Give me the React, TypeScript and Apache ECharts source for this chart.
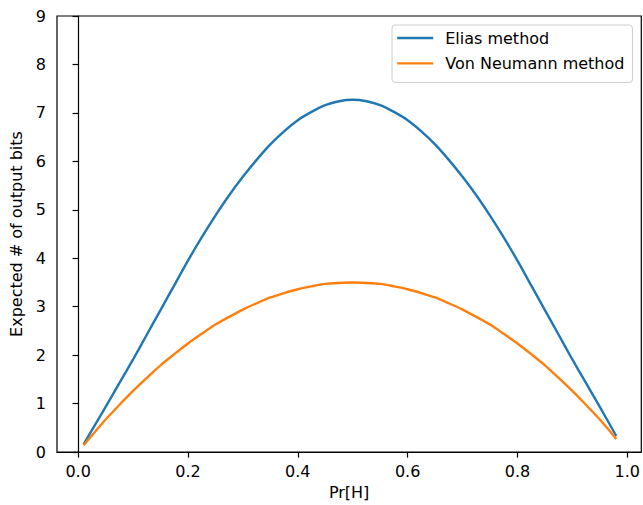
import React, { useEffect, useRef } from "react";
import * as echarts from "echarts";

const pValues = [
  0.01, 0.025, 0.05, 0.075, 0.1, 0.125, 0.15, 0.175, 0.2, 0.225, 0.25, 0.275, 0.3, 0.325, 0.35, 0.375, 0.4, 0.425, 0.45, 0.475,
  0.5, 0.525, 0.55, 0.575, 0.6, 0.625, 0.65, 0.675, 0.7, 0.725, 0.75, 0.775, 0.8, 0.825, 0.85, 0.875, 0.9, 0.925, 0.95, 0.98,
];
const eliasValues = [
  0.16, 0.45, 0.93, 1.42, 1.91, 2.42, 2.93, 3.44, 3.95, 4.43, 4.88, 5.3, 5.68, 6.03, 6.35, 6.62, 6.85, 7.02, 7.16, 7.24,
  7.27, 7.24, 7.16, 7.02, 6.85, 6.62, 6.35, 6.03, 5.68, 5.3, 4.88, 4.43, 3.95, 3.44, 2.93, 2.42, 1.91, 1.42, 0.93, 0.33,
];
const vonNeumannValues = [
  0.14, 0.34, 0.67, 0.97, 1.26, 1.53, 1.79, 2.02, 2.24, 2.44, 2.63, 2.79, 2.94, 3.07, 3.19, 3.28, 3.36, 3.42, 3.47, 3.49,
  3.5, 3.49, 3.47, 3.42, 3.36, 3.28, 3.19, 3.07, 2.94, 2.79, 2.63, 2.44, 2.24, 2.02, 1.79, 1.53, 1.26, 0.97, 0.67, 0.27,
];
const xTicks = [0, 0.2, 0.4, 0.6, 0.8, 1.0];
const seriesNames = ["Elias method", "Von Neumann method"];

const FONT = "DejaVu Sans";

export default function App() {
  const ref = useRef<HTMLDivElement>(null);
  useEffect(() => {
    if (!ref.current) return;
    const chart = echarts.init(ref.current, null, { renderer: "svg" });
    const toPairs = (vals: number[]) => pValues.map((p, i) => [p, vals[i]]);
    chart.setOption({
      animation: false,
      backgroundColor: "#ffffff",
      textStyle: { fontFamily: FONT },
      grid: {
        left: 57,
        right: 1,
        top: 16,
        bottom: 52.3,
        containLabel: false,
        show: true,
        borderColor: "#000",
        borderWidth: 1.2,
        backgroundColor: "transparent",
      },
      legend: {
        orient: "vertical",
        left: 392,
        top: 25,
        padding: [5, 8, 11, 4],
        itemWidth: 36,
        itemHeight: 14,
        itemGap: 9.4,
        backgroundColor: "rgba(255,255,255,0.8)",
        borderColor: "#cccccc",
        borderWidth: 1,
        borderRadius: 3,
        itemStyle: { opacity: 0, borderWidth: 0 },
        lineStyle: { width: 2.4 },
        data: seriesNames,
        textStyle: { fontSize: 16, color: "#000", fontFamily: FONT, padding: [0, 0, 0, 7] },
      },
      xAxis: {
        type: "value",
        min: -0.0385,
        max: 1.0255,
        name: "Pr[H]",
        nameLocation: "middle",
        nameGap: 32,
        nameTextStyle: { fontSize: 16, color: "#000", fontFamily: FONT },
        axisLine: { show: true, onZero: false, lineStyle: { color: "#000", width: 1.2 } },
        axisTick: { show: true, customValues: xTicks, length: 5.6, lineStyle: { color: "#000", width: 1.2 } },
        axisLabel: {
          customValues: xTicks,
          formatter: (v: number) => v.toFixed(1),
          margin: 11,
          fontSize: 16,
          color: "#000",
          fontFamily: FONT,
        },
        splitLine: { show: false },
      },
      yAxis: {
        type: "value",
        min: 0,
        max: 9,
        interval: 1,
        name: "Expected # of output bits",
        nameLocation: "middle",
        nameGap: 30,
        nameRotate: 90,
        nameTextStyle: { fontSize: 16, color: "#000", fontFamily: FONT },
        axisLine: { show: true, lineStyle: { color: "#000", width: 1.2 } },
        axisTick: { show: true, length: 5.6, lineStyle: { color: "#000", width: 1.2 } },
        axisLabel: { margin: 11, fontSize: 16, color: "#000", fontFamily: FONT },
        splitLine: { show: false },
      },
      series: [
        {
          name: seriesNames[0],
          type: "line",
          data: toPairs(eliasValues),
          symbol: "none",
          showSymbol: false,
          smooth: 0.3,
          lineStyle: { color: "#1f77b4", width: 2.4 },
          itemStyle: { color: "#1f77b4" },
        },
        {
          name: seriesNames[1],
          type: "line",
          data: toPairs(vonNeumannValues),
          symbol: "none",
          showSymbol: false,
          smooth: 0.3,
          lineStyle: { color: "#ff7f0e", width: 2.4 },
          itemStyle: { color: "#ff7f0e" },
        },
      ],
    });
    return () => chart.dispose();
  }, []);
  return (
    <div
      ref={ref}
      style={{ position: "absolute", left: 0, top: 0, width: 643, height: 505, background: "#fff" }}
    />
  );
}
